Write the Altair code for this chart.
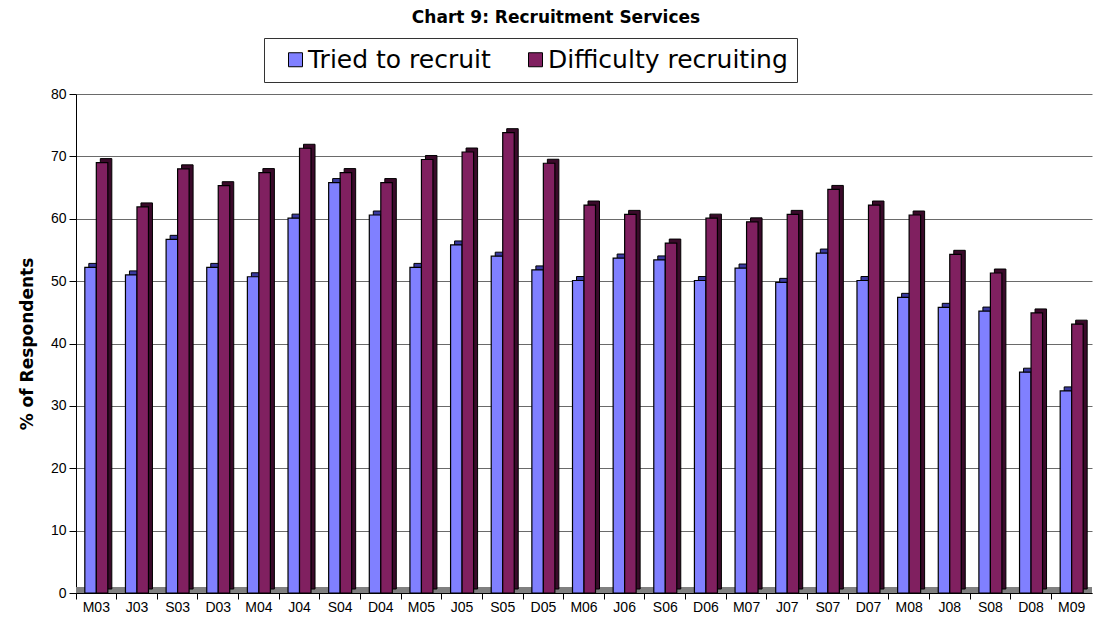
import altair as alt
import pandas as pd

categories = ["M03", "J03", "S03", "D03", "M04", "J04", "S04", "D04", "M05", "J05",
              "S05", "D05", "M06", "J06", "S06", "D06", "M07", "J07", "S07", "D07",
              "M08", "J08", "S08", "D08", "M09"]
tried = [52.2, 51.0, 56.7, 52.2, 50.7, 60.1, 65.8, 60.6, 52.2, 55.8,
         54.0, 51.8, 50.1, 53.7, 53.4, 50.1, 52.1, 49.8, 54.5, 50.1,
         47.4, 45.8, 45.2, 35.4, 32.4]
difficulty = [69.0, 61.9, 68.0, 65.3, 67.4, 71.3, 67.4, 65.8, 69.5, 70.7,
              73.8, 68.9, 62.2, 60.7, 56.1, 60.1, 59.5, 60.7, 64.7, 62.2,
              60.6, 54.3, 51.3, 44.9, 43.1]
series_names = ["Tried to recruit", "Difficulty recruiting"]
series_colors = ["#8080FF", "#802060"]
shadow_colors = ["#3A3AA0", "#3A0A2A"]

rows = []
for i, c in enumerate(categories):
    rows.append({"cat": c, "series": series_names[0], "value": tried[i]})
    rows.append({"cat": c, "series": series_names[1], "value": difficulty[i]})
df = pd.DataFrame(rows)

FONT = "Liberation Sans"
WIDE = "DejaVu Sans"
BW = 11.5
DEPTH = 4

x_enc = alt.X("cat:N", sort=categories,
              scale=alt.Scale(paddingInner=0, paddingOuter=0),
              axis=alt.Axis(title=None, labelAngle=0, labelFontSize=14, labelFont=FONT,
                            labelColor="black", tickColor="black", tickSize=6,
                            bandPosition=0, domainColor="black", labelPadding=1,
                            grid=False))
y_enc = alt.Y("value:Q", scale=alt.Scale(domain=[0, 80], nice=False),
              axis=alt.Axis(title="% of Respondents", values=list(range(0, 81, 10)),
                            titleFont=WIDE, titleFontSize=17, titleFontWeight="bold",
                            titleColor="black", titlePadding=14,
                            labelFont=FONT, labelFontSize=14, labelColor="black",
                            tickColor="black", tickSize=7, labelPadding=3,
                            domainColor="black", grid=True, gridColor="#6a6a6a",
                            gridWidth=1))

color_scale = alt.Scale(domain=series_names, range=series_colors)
legend = alt.Legend(title=None, orient="none", legendX=188, legendY=-56,
                    direction="horizontal", labelFont=WIDE, labelFontSize=25,
                    labelColor="black", symbolType="square", symbolSize=196,
                    symbolStrokeColor="black", symbolStrokeWidth=1,
                    symbolOffset=10,
                    columnPadding=22, padding=9, strokeColor="#333333",
                    fillColor="white", labelOffset=0, labelLimit=400)

base = alt.Chart(df)

floor = alt.Chart(pd.DataFrame({"v": [0]})).mark_rule(
    color="#808080", strokeWidth=6, yOffset=-3
).encode(y=alt.Y("v:Q", scale=alt.Scale(domain=[0, 80], nice=False)))

layers = [floor]
offsets = [-BW / 2, BW / 2]
for k, s in enumerate(series_names):
    sub = base.transform_filter(alt.datum.series == s)
    shadow = sub.mark_bar(width=BW, xOffset=offsets[k] + DEPTH, yOffset=-DEPTH,
                          color=shadow_colors[k], stroke="black", strokeWidth=1).encode(
        x=x_enc, y=y_enc)
    front = sub.mark_bar(width=BW, xOffset=offsets[k], stroke="black",
                         strokeWidth=1.2).encode(
        x=x_enc, y=y_enc,
        color=alt.Color("series:N", scale=color_scale, legend=legend))
    layers += [shadow, front]

chart = alt.layer(*layers).properties(
    width=1016, height=499,
    autosize=alt.AutoSizeParams(type="none"),
    padding={"left": 68, "top": 86, "right": 2, "bottom": 22},
    title=alt.TitleParams("Chart 9: Recruitment Services", font=WIDE, fontSize=17,
                          fontWeight="bold", color="black", anchor="middle",
                          dx=-28, offset=11),
).configure_view(stroke=None).configure_axisY(domainWidth=1)

chart.save("out.html", embed_options={"renderer": "svg", "actions": False})
